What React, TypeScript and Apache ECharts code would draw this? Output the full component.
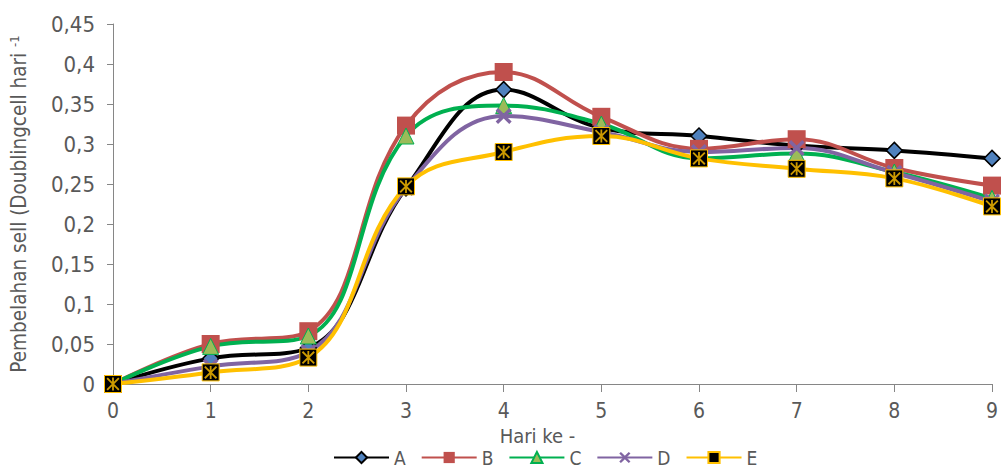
import React, { useEffect, useRef } from "react";
import * as echarts from "echarts";

const categories = ["0", "1", "2", "3", "4", "5", "6", "7", "8", "9"];
const seriesA = [0, 0.032, 0.045, 0.245, 0.368, 0.32, 0.31, 0.298, 0.292, 0.282];
const seriesB = [0, 0.05, 0.066, 0.323, 0.39, 0.334, 0.294, 0.306, 0.27, 0.248];
const seriesC = [0, 0.047, 0.06, 0.31, 0.348, 0.325, 0.282, 0.288, 0.265, 0.232];
const seriesD = [0, 0.022, 0.04, 0.245, 0.335, 0.315, 0.29, 0.295, 0.264, 0.228];
const seriesE = [0, 0.0145, 0.033, 0.247, 0.29, 0.31, 0.282, 0.269, 0.257, 0.222];
const yTicks = { min: 0, max: 0.45, interval: 0.05 };

const FONT = "'DejaVu Sans Condensed', 'Liberation Sans Narrow', sans-serif";
const GREY = "#595959";

const X_PATH = "path://M0,1.5 L1.5,0 L5,3.5 L8.5,0 L10,1.5 L6.5,5 L10,8.5 L8.5,10 L5,6.5 L1.5,10 L0,8.5 L3.5,5 Z";
const STAR_PATH =
  "path://M0,1 L1,0 L10,9 L9,10 Z M9,0 L10,1 L1,10 L0,9 Z M4.3,0 L5.7,0 L5.7,10 L4.3,10 Z";

export default function App() {
  const ref = useRef<HTMLDivElement>(null);
  useEffect(() => {
    if (!ref.current) return;
    const chart = echarts.init(ref.current, undefined, { renderer: "svg" });
    const line = (name: string, data: number[], color: string, symbol: string, size: number, fill: string, border: string, bw: number) => ({
      name,
      type: "line",
      data,
      smooth: 0.4,
      symbol,
      symbolSize: size,
      lineStyle: { color, width: 4 },
      itemStyle: { color: fill, borderColor: border, borderWidth: bw },
      z: 2,
    });
    chart.setOption({
      animation: false,
      textStyle: { fontFamily: FONT },
      grid: { left: 111, right: 4, top: 24, bottom: 83, containLabel: false },
      legend: {
        data: ["A", "B", "C", "D", "E"],
        top: 443,
        left: 328,
        itemWidth: 55,
        itemHeight: 14,
        itemGap: 15,
        textStyle: { color: GREY, fontSize: 19, lineHeight: 16, fontFamily: FONT },
      },
      xAxis: {
        type: "category",
        data: categories,
        boundaryGap: false,
        name: "Hari ke -",
        nameLocation: "middle",
        nameGap: 42,
        nameTextStyle: { color: GREY, fontSize: 20, fontFamily: FONT, padding: [0, 30, 0, 0] },
        axisLine: { lineStyle: { color: "#868686", width: 1 } },
        axisTick: { show: true, length: 8, lineStyle: { color: "#868686" } },
        axisLabel: { color: GREY, fontSize: 21, margin: 16, fontFamily: FONT },
        splitLine: { show: false },
      },
      yAxis: {
        type: "value",
        min: yTicks.min,
        max: yTicks.max,
        interval: yTicks.interval,
        name: "{a|Pembelahan sell (Doublingcell hari }{b|-1}",
        nameLocation: "middle",
        nameRotate: 90,
        nameGap: 84,
        nameTextStyle: {
          rich: {
            a: { color: GREY, fontSize: 20.5, fontFamily: FONT },
            b: { color: GREY, fontSize: 13, fontFamily: FONT, padding: [0, 0, 8, 0] },
          },
        },
        axisLine: { show: true, lineStyle: { color: "#868686", width: 1 } },
        axisTick: { show: true, length: 6, lineStyle: { color: "#868686" } },
        axisLabel: {
          color: GREY,
          fontSize: 22,
          margin: 18,
          fontFamily: FONT,
          formatter: (v: number) => String(parseFloat(v.toFixed(2))).replace(".", ","),
        },
        splitLine: { show: false },
      },
      series: [
        line("A", seriesA, "#000000", "diamond", 16, "#4F81BD", "#000000", 1.5),
        line("B", seriesB, "#C0504D", "rect", 18, "#C0504D", "#C0504D", 0),
        line("C", seriesC, "#00B050", "triangle", 16, "#9BBB59", "#00B050", 1),
        line("D", seriesD, "#8064A2", X_PATH, 16, "#8064A2", "#8064A2", 0),
        line("E", seriesE, "#FFC000", "rect", 17, "#000000", "#FFC000", 1),
        {
          name: "E-star",
          type: "scatter",
          data: seriesE,
          symbol: STAR_PATH,
          symbolSize: 13,
          itemStyle: { color: "#FFC000" },
          z: 5,
          silent: true,
        },
      ],
    });
    return () => chart.dispose();
  }, []);
  return <div ref={ref} style={{ width: 1001, height: 467, position: "absolute", left: 0, top: 0 }} />;
}
